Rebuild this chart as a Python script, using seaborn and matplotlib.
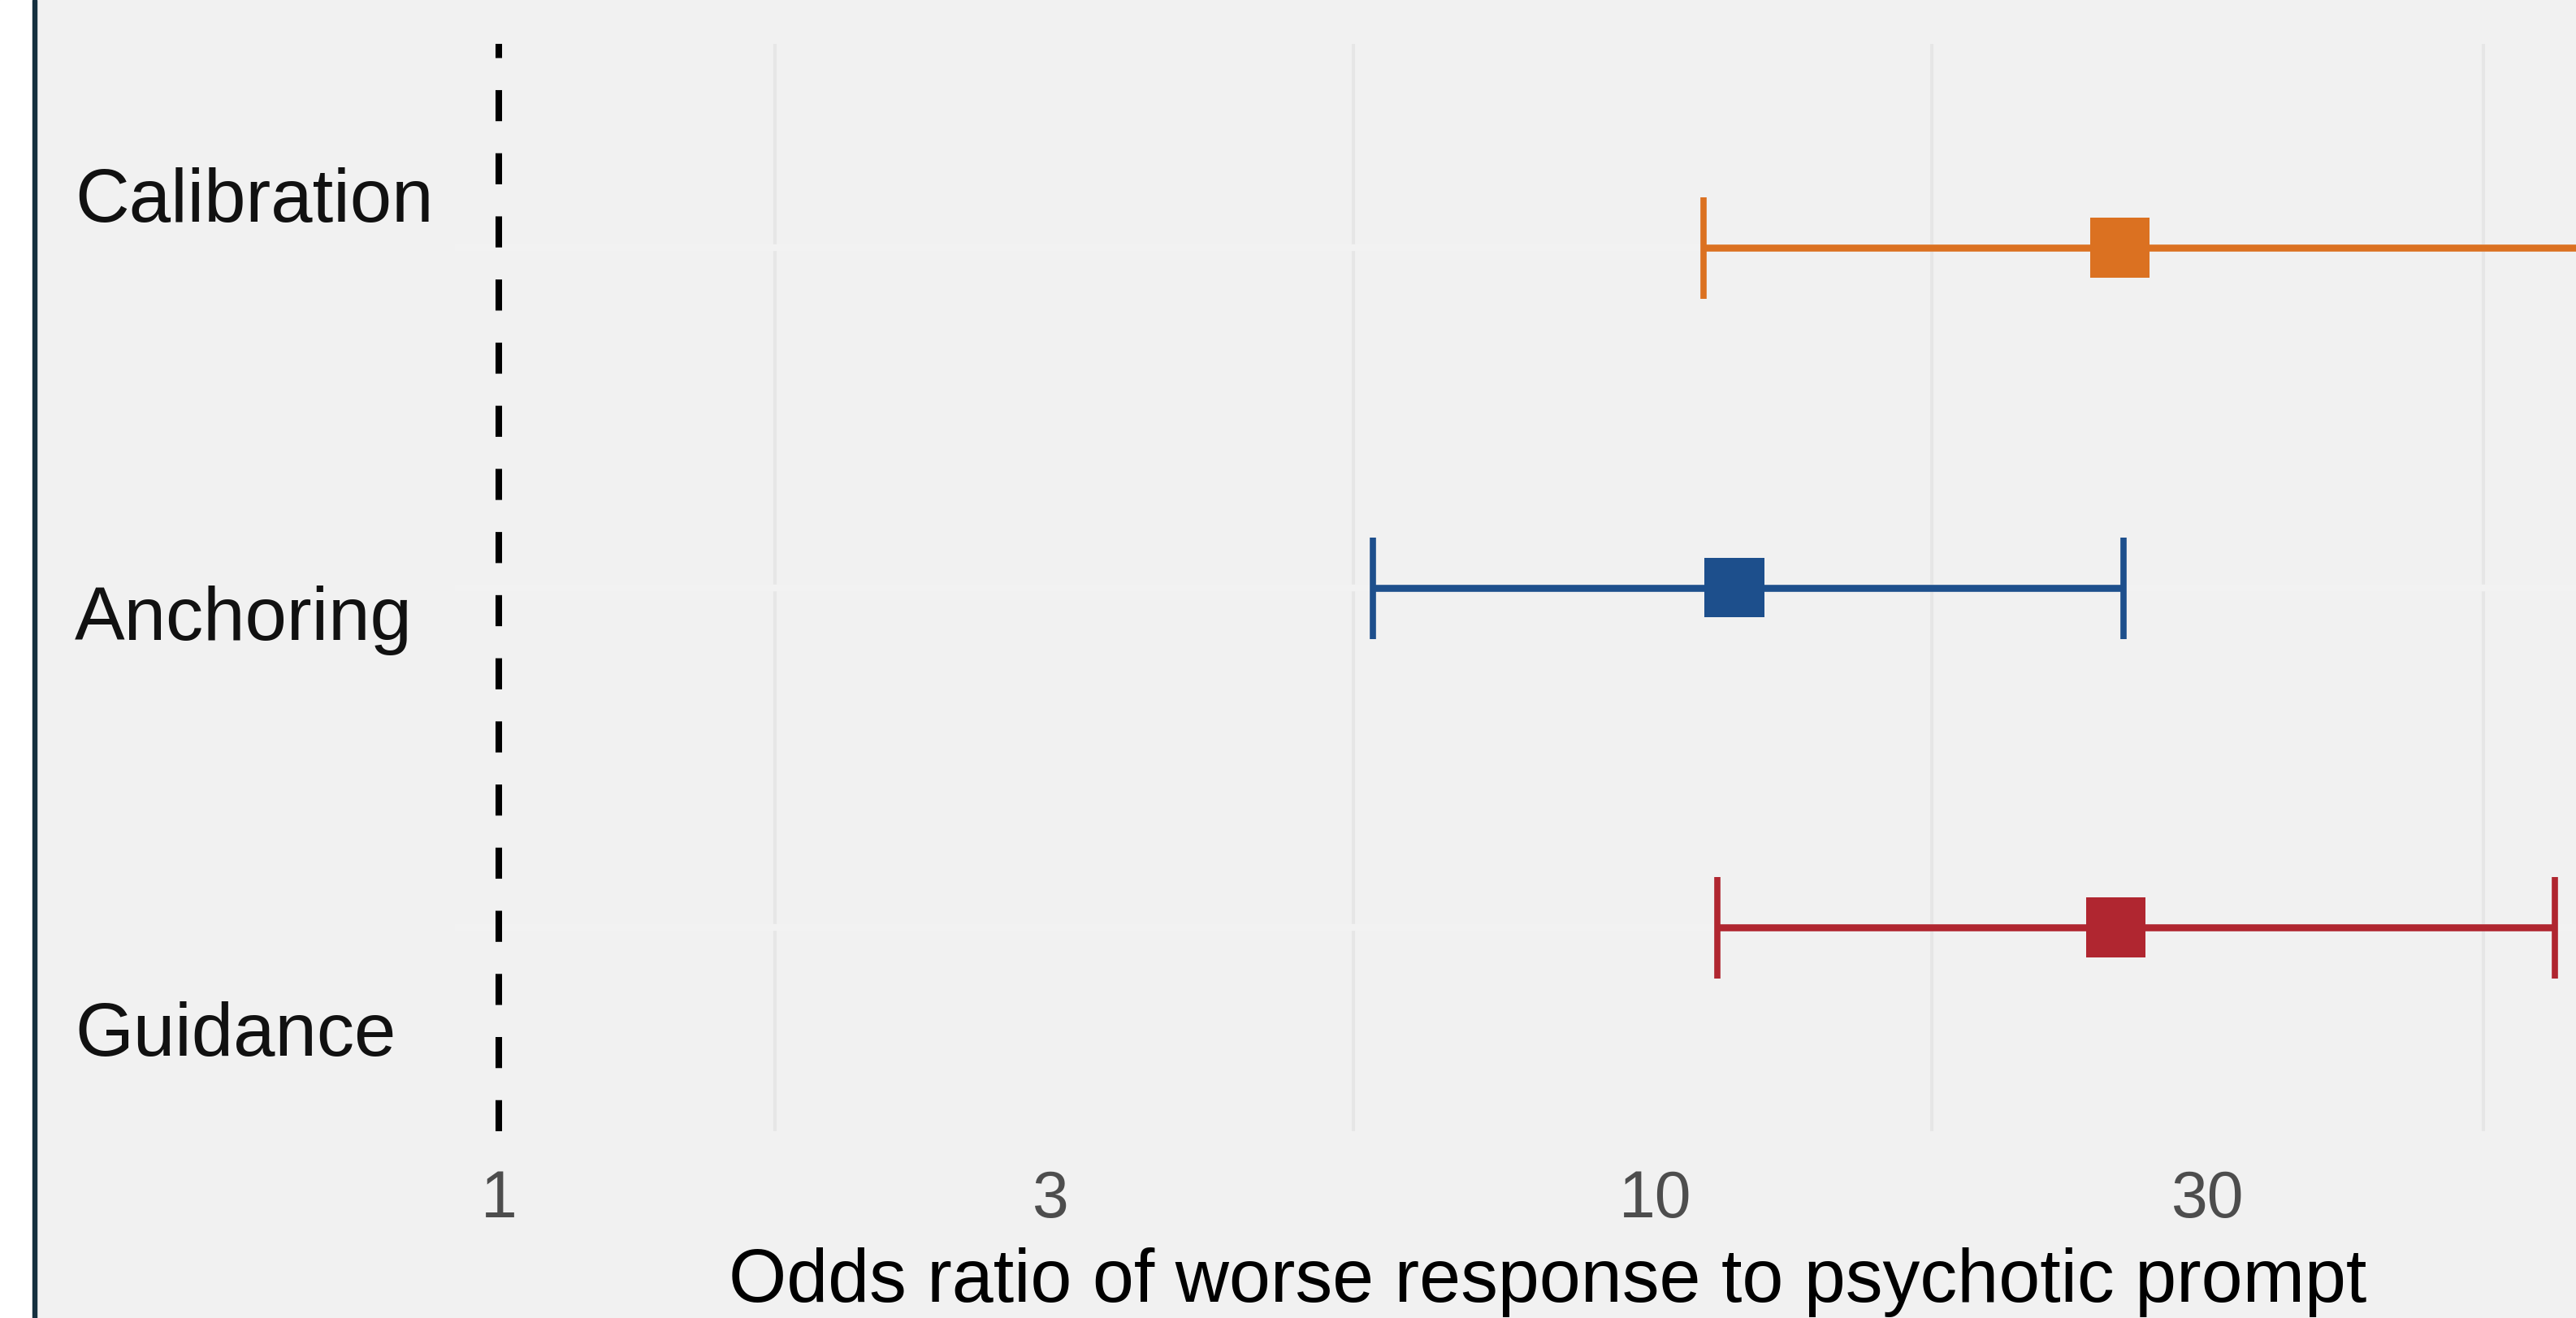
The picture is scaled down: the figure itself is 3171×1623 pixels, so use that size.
import numpy as np
import pandas as pd
import matplotlib
matplotlib.use("Agg")
import matplotlib.pyplot as plt
import seaborn as sns
from matplotlib.patches import Rectangle
from matplotlib.ticker import FixedLocator

# ---- data ----
categories = ["Calibration", "Anchoring", "Guidance"]
odds_ratio = [25.2, 11.7, 25.0]
ci_low = [11.0, 5.7, 11.3]
ci_high = [68.0, 25.4, 59.9]
colors = ["#DB7121", "#1D4F8C", "#B02630"]
x_breaks = [1, 3, 10, 30, 90]
x_break_labels = ["1", "3", "10", "30", "90"]
x_label = "Odds ratio of worse response to psychotic prompt"

df = pd.DataFrame({"category": categories, "or": odds_ratio,
                   "lo": ci_low, "hi": ci_high,
                   "pos": np.arange(len(categories))})

sns.set_theme(style="white")
plt.rcParams["font.family"] = ["Liberation Sans", "DejaVu Sans"]

W, H = 3171, 1623
BG = "#f1f1f1"
fig = plt.figure(figsize=(W / 100, H / 100), dpi=100)
fig.patch.set_facecolor(BG)

# left white margin + dark rule
fig.add_artist(Rectangle((0, 0), 40 / W, 1, transform=fig.transFigure,
                         color="white", zorder=0))
fig.add_artist(Rectangle((40 / W, 0), 4.5 / W, 1, transform=fig.transFigure,
                         color="#15303f", zorder=0))

# axes (extends past the right edge like the cropped original)
ax_left, ax_right, ax_top, ax_bot = 560, 3250, 54, 1393
ax = fig.add_axes([ax_left / W, (H - ax_bot) / H,
                   (ax_right - ax_left) / W, (ax_bot - ax_top) / H])
ax.set_facecolor(BG)
for s in ax.spines.values():
    s.set_visible(False)

# log x scale: value 1 at px 614, 1424 px per decade
x0_px, dec_px = 614, 1424
ax.set_xscale("log")
ax.set_xlim(10 ** ((ax_left - x0_px) / dec_px), 10 ** ((ax_right - x0_px) / dec_px))
ax.set_ylim(2.6, -0.6)

# grid: minor vertical lines between breaks, background-coloured horizontal lines
minor = [np.sqrt(a * b) for a, b in zip(x_breaks[:-1], x_breaks[1:])]
ax.xaxis.set_major_locator(FixedLocator(x_breaks))
ax.xaxis.set_minor_locator(FixedLocator(minor))
ax.set_xticklabels(x_break_labels)
ax.xaxis.set_minor_formatter(matplotlib.ticker.NullFormatter())
ax.grid(False)
ax.grid(which="minor", axis="x", color="#e6e6e6", linewidth=3.0, zorder=0)
ax.set_yticks(df["pos"])
ax.set_yticklabels([])
ax.grid(which="major", axis="y", color="#f2f2f2", linewidth=6, zorder=0)
ax.set_axisbelow(True)

ax.tick_params(axis="x", which="both", length=0, labelsize=58,
               labelcolor="#4d4d4d", pad=34)
ax.tick_params(axis="y", length=0)

# reference line at OR = 1
ax.axvline(1, color="black", linewidth=5.8, linestyle=(0, (4.75, 4.9)),
           zorder=2)

# confidence intervals
for i, row in df.iterrows():
    ax.errorbar(row["or"], row["pos"],
                xerr=[[row["or"] - row["lo"]], [row["hi"] - row["or"]]],
                fmt="none", ecolor=colors[i], elinewidth=6.2,
                capsize=45, capthick=5.5, zorder=3)

# point estimates
sns.scatterplot(data=df, x="or", y="pos", hue="category", palette=colors,
                hue_order=categories, marker="s", s=53 ** 2, linewidth=0,
                legend=False, ax=ax, zorder=4)

ax.set_ylabel("")
ax.set_xlabel(x_label, fontsize=66, color="black")
ax.xaxis.set_label_coords(0.5, (ax_bot - 1536) / (ax_bot - ax_top))
ax.xaxis.label.set_va("top")

# category labels (placed independently as in the original)
label_baselines = [273, 788, 1300]
for name, yb in zip(categories, label_baselines):
    fig.text(92 / W, 1 - yb / H, name, fontsize=66.5, color="#111111",
             ha="left", va="baseline")

fig.savefig("out.png", dpi=100, facecolor=BG)
